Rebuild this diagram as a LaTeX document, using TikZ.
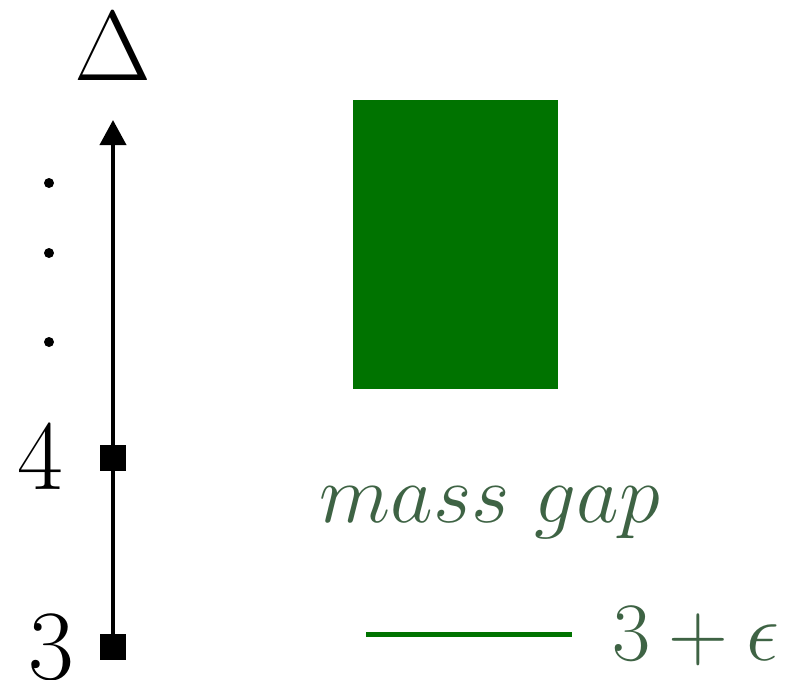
\documentclass[tikz,border=0pt]{standalone}
\usepackage{amsmath,amssymb}
\usetikzlibrary{arrows.meta,positioning}
\definecolor{gapgreen}{RGB}{0,115,0}
\definecolor{labelgreen}{RGB}{62,99,68}

\begin{document}
\begin{tikzpicture}[x=0.25pt, y=-0.25pt,
                    tick/.style={fill=black, inner sep=0pt, minimum size=6.5pt},
                    axislabel/.style={font=\Huge, inner sep=0pt},
                    gaplabel/.style={font=\huge, text=labelgreen, inner sep=0pt, anchor=base}]
                    \useasboundingbox (0,0) rectangle (794,679);

                    % Dimension axis
                    \coordinate (top) at (113,120);
                    \coordinate (bottom) at (113,647);
                    \draw[line width=1pt, -{Triangle[width=6.5pt, length=6.25pt]}] (bottom) -- (top);
                    \node[tick] (t3) at (bottom) {};
                    \node[tick] (t4) at (113,458) {};
                    \node[axislabel] (delta) at (113,46) {$\Delta$};
                    \node[axislabel] (l4) at (40,457) {$4$};
                    \node[axislabel] (l3) at (51,647) {$3$};
                    \foreach \y in {183, 253, 342} {
                        \fill (49,\y) circle (1.25pt);
                    }

                    % Continuum and gap
                    \fill[gapgreen] (353,100) rectangle (558,389);
                    \node[gaplabel] (gap) at (490,522) {$mass\ gap$};
                    \coordinate (eps left) at (366,634.5);
                    \coordinate (eps right) at (572,634.5);
                    \draw[gapgreen, line width=1.25pt] (eps left) -- (eps right);
                    \node[gaplabel] (eps) at (696,660) {$3+\epsilon$};
                \end{tikzpicture}
\end{document}
